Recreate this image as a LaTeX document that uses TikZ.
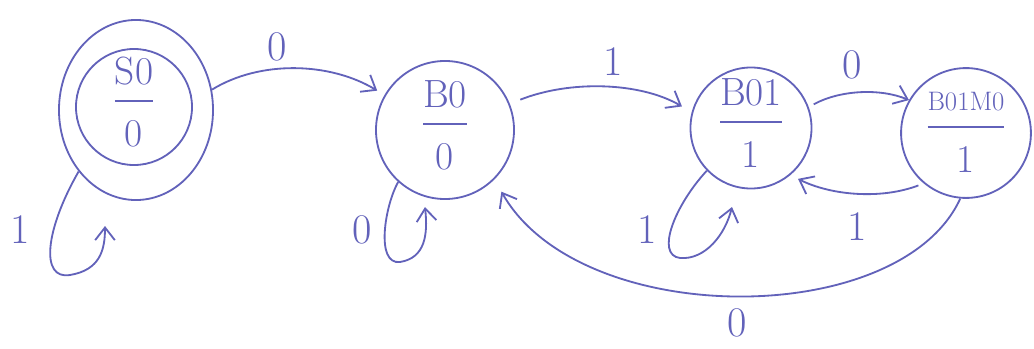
\documentclass[tikz,border=0pt]{standalone}
\usetikzlibrary{arrows.meta,shapes.geometric}
\definecolor{penink}{HTML}{6262BA}
\setlength{\arrayrulewidth}{1.3pt}
\newcommand{\moore}[2]{\begin{tabular}{@{}c@{}}#1\\[2pt]\hline\rule{0pt}{32pt}#2\end{tabular}}

\begin{document}
\begin{tikzpicture}[x=0.025cm,y=-0.025cm,
  state/.style={draw=penink, line width=1.3pt, circle, inner sep=0pt, text=penink, font=\fontsize{28}{30}\selectfont},
  ring/.style={draw=penink, line width=1.3pt, ellipse, inner sep=0pt},
  wire/.style={draw=penink, line width=1.3pt},
  trans/.style={wire, -{Straight Barb[length=9pt,width=14pt,line width=1.3pt]}},
  edgelabel/.style={text=penink, font=\fontsize{30}{32}\selectfont, inner sep=0pt}]
\path[use as bounding box] (0,0) rectangle (1034,349);
% states
\node[state, minimum size=2.9cm] (s0) at (134,107) {\moore{S0}{0}};
\node[ring, minimum width=3.85cm, minimum height=4.5cm] (s0ring) at (136,110) {};
\node[state, minimum size=3.45cm] (b0) at (445,130) {\moore{B0}{0}};
\node[state, minimum size=2.95cm] (b01) at (751,128) {\moore{B01}{1}};
\node[state, minimum size=3.0cm] (b01m0) at (966,133) {\moore{\fontsize{19}{21}\selectfont B01M0}{1}};
% loop ends
\coordinate (s0tip) at (105,226);
\coordinate (b0tip) at (425,207);
\coordinate (b01tip) at (732,207);
% transitions
\draw[trans, shorten >=6pt] (s0ring.15) .. controls (260,60) and (330,62) .. (b0.150);
\draw[trans, shorten <=8pt, shorten >=8pt] (b0.22) .. controls (570,80) and (640,82) .. (b01.165);
\draw[trans, shorten <=4pt] (b01.20) .. controls (840,90) and (880,88) .. (b01m0.150);
\draw[trans, shorten <=4pt, shorten >=6pt] (b01m0.230) .. controls (880,200) and (830,195) .. (b01.310);
\draw[trans, shorten >=10pt] (b01m0.265) .. controls (900,330) and (580,330) .. (b0.315);
\draw[trans] (s0ring.227) .. controls (45,230) and (40,280) .. (70,275) .. controls (100,270) and (105,250) .. (s0tip);
\draw[trans] (b0.228) .. controls (385,205) and (375,265) .. (400,262) .. controls (425,258) and (428,235) .. (b0tip);
\draw[trans] (b01.224) .. controls (675,205) and (655,255) .. (680,258) .. controls (705,260) and (725,235) .. (b01tip);
% labels
\node[edgelabel] (l1) at (277,47) {0};
\node[edgelabel] (l2) at (613,62) {1};
\node[edgelabel] (l3) at (852,65) {0};
\node[edgelabel] (l4) at (857,227) {1};
\node[edgelabel] (l5) at (737,323) {0};
\node[edgelabel] (l6) at (20,230) {1};
\node[edgelabel] (l7) at (362,230) {0};
\node[edgelabel] (l8) at (647,230) {1};
\end{tikzpicture}
\end{document}
